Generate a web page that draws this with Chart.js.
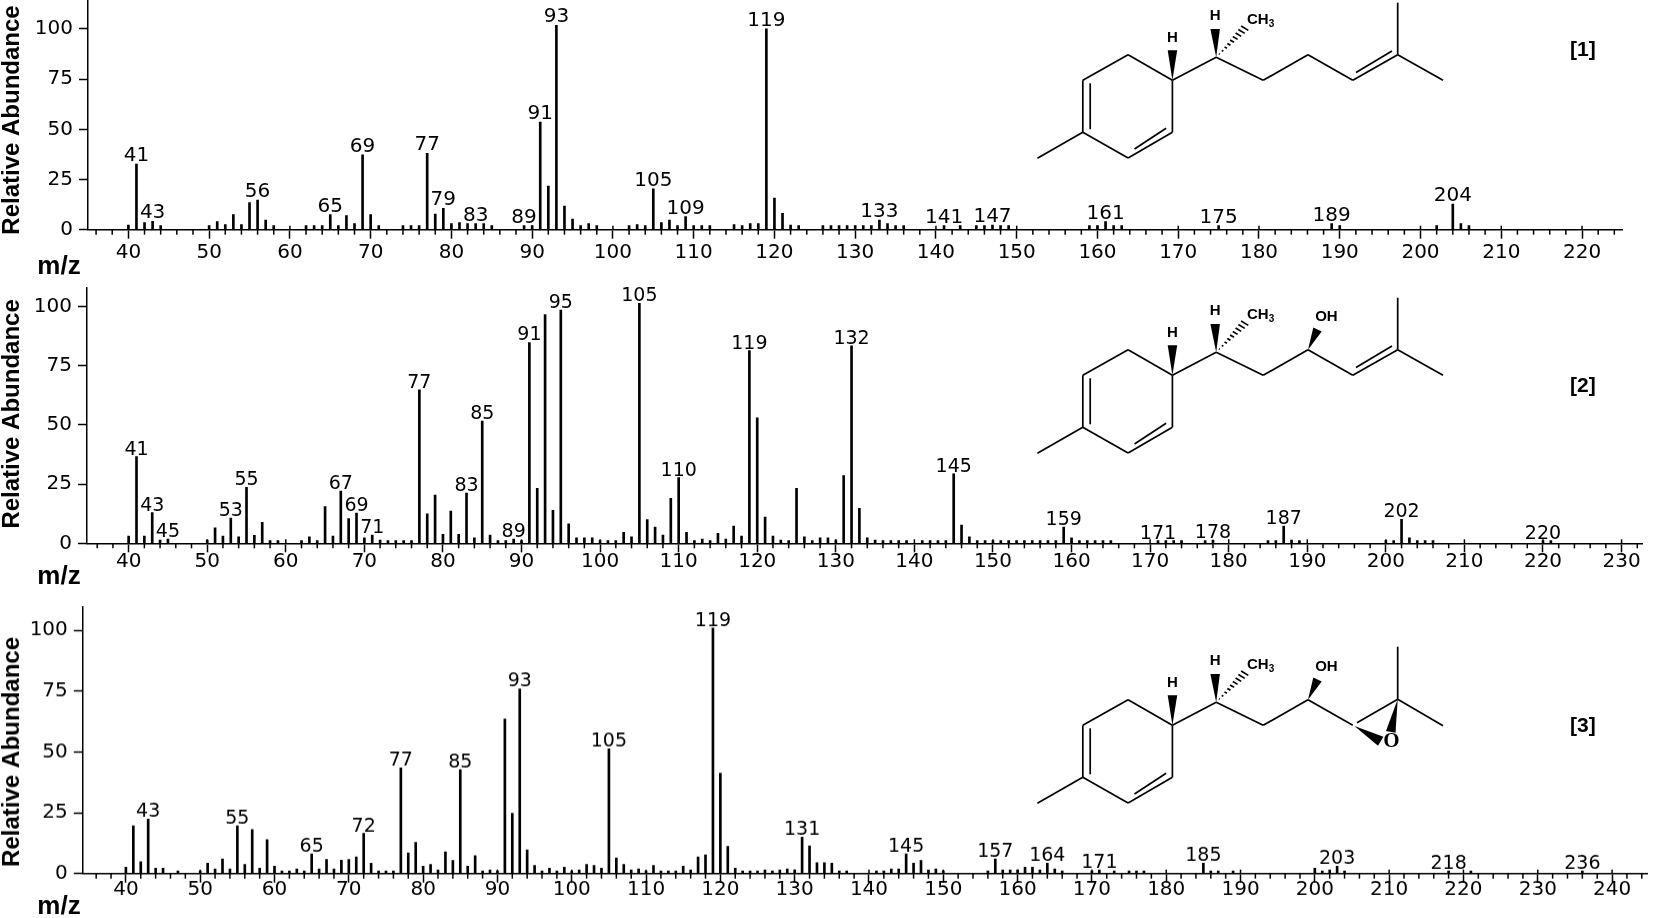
<!DOCTYPE html>
<html>
<head>
<meta charset="utf-8">
<title>Mass spectra [1] [2] [3]</title>
<script src="https://cdn.jsdelivr.net/npm/chart.js@4"></script>
<style>
    html, body { margin: 0; padding: 0; background: #fff; }
    #page { position: relative; width: 1654px; height: 918px; overflow: hidden; }
    canvas { position: absolute; left: 0; }
    svg { position: absolute; left: 0; top: 0; }
</style>
</head>
<body>
<div id="page">
    <canvas id="spectrum1"></canvas>
    <canvas id="spectrum2"></canvas>
    <canvas id="spectrum3"></canvas>
    <svg id="structures" width="1654" height="918"></svg>
</div>
<script>
/* =====================================================
   DATA
   ===================================================== */
var mz1 = [40, 41, 42, 43, 44, 50, 51, 52, 53, 54, 55, 56, 57, 58, 62, 63, 64, 65, 66, 67, 68, 69, 70, 71, 74, 75, 76, 77, 78, 79, 80, 81, 82, 83, 84, 85, 89, 90, 91, 92, 93, 94, 95, 96, 97, 98, 102, 103, 104, 105, 106, 107, 108, 109, 110, 111, 112, 115, 116, 117, 118, 119, 120, 121, 122, 123, 126, 127, 128, 129, 130, 131, 132, 133, 134, 135, 136, 141, 143, 145, 146, 147, 148, 149, 159, 160, 161, 162, 163, 175, 189, 190, 202, 204, 205, 206];
var abundance1 = [2.3, 32.7, 3.5, 4.2, 2, 2, 4, 2.5, 7.5, 2.5, 13.5, 14.8, 4.8, 2, 2, 2, 2, 7.5, 2, 7, 3, 37.3, 7.5, 2, 2, 2, 2, 38, 7.8, 10.6, 3, 3.5, 3, 3, 3, 2, 2, 2, 53.6, 21.7, 101.8, 11.8, 5.3, 2, 3, 2, 2, 2.5, 2, 20.4, 3.5, 4.8, 2, 6.5, 2, 2, 2, 2.5, 2, 3, 3, 100, 15.8, 8.1, 2.3, 2, 2, 2, 2, 2, 2, 2, 2, 4.8, 3, 2, 2, 2, 2, 2, 2, 2.3, 2, 2, 2, 2, 4, 2, 2, 2, 3, 2, 2, 12.8, 3, 2];
var peaks1 = [41, 43, 56, 65, 69, 77, 79, 83, 89, 91, 93, 105, 109, 119, 133, 141, 147, 161, 175, 189, 204];

var mz2 = [40, 41, 42, 43, 44, 45, 50, 51, 52, 53, 54, 55, 56, 57, 58, 59, 62, 63, 64, 65, 66, 67, 68, 69, 70, 71, 72, 73, 74, 75, 76, 77, 78, 79, 80, 81, 82, 83, 84, 85, 86, 87, 88, 89, 90, 91, 92, 93, 94, 95, 96, 97, 98, 99, 100, 101, 102, 103, 104, 105, 106, 107, 108, 109, 110, 111, 112, 113, 114, 115, 116, 117, 118, 119, 120, 121, 122, 123, 124, 125, 126, 127, 128, 129, 130, 131, 132, 133, 134, 135, 136, 137, 138, 139, 141, 142, 143, 144, 145, 146, 147, 148, 149, 150, 151, 152, 153, 154, 155, 156, 157, 158, 159, 160, 161, 162, 163, 164, 165, 171, 172, 173, 174, 177, 178, 185, 186, 187, 188, 189, 200, 201, 202, 203, 204, 205, 206, 220, 221];
var abundance2 = [3.1, 36.6, 3.1, 13, 1.4, 1.8, 1.4, 6.5, 3.1, 10.7, 2.7, 23.6, 3.4, 8.9, 1.1, 1.1, 1.1, 2.7, 1.1, 15.5, 3.1, 22, 10.4, 12.8, 2.3, 3.5, 1.4, 1.1, 1.1, 1.1, 1.1, 64.8, 12.4, 20.4, 3.8, 13.6, 3.8, 21.2, 2.3, 51.6, 3.5, 1.1, 1.1, 1.8, 1.1, 84.8, 23.2, 96.6, 13.9, 98.5, 8.2, 2.3, 2.3, 2.3, 1.1, 1.1, 1.1, 4.6, 2.7, 101.3, 10, 6.9, 3.5, 19, 27.7, 4.6, 1.1, 1.8, 1.1, 4.2, 1.8, 7.3, 3.1, 81.4, 53, 11.1, 3.1, 1.4, 1.1, 23.2, 2.7, 1.1, 2.3, 2.3, 1.4, 28.6, 83.4, 14.8, 2.3, 1.4, 1.1, 1.1, 1.1, 1.1, 1.1, 1.1, 1.1, 1.1, 29.3, 7.7, 2.7, 1.1, 1.1, 1.1, 1.1, 1.1, 1.1, 1.1, 1.1, 1.1, 1.1, 1.1, 6.8, 2.3, 1.1, 1.1, 1.1, 1.1, 1.1, 1.1, 1.1, 1.1, 1.1, 1.1, 1.4, 1.1, 1.1, 7.3, 1.4, 1.1, 1.1, 1.1, 10.1, 2.3, 1.1, 1.1, 1.1, 1.1, 1.1];
var peaks2 = [41, 43, 45, 53, 55, 67, 69, 71, 77, 83, 85, 89, 91, 95, 105, 110, 119, 132, 145, 159, 171, 178, 187, 202, 220];

var mz3 = [40, 41, 42, 43, 44, 45, 47, 50, 51, 52, 53, 54, 55, 56, 57, 58, 59, 60, 61, 62, 63, 64, 65, 66, 67, 68, 69, 70, 71, 72, 73, 74, 75, 76, 77, 78, 79, 80, 81, 82, 83, 84, 85, 86, 87, 88, 89, 90, 91, 92, 93, 94, 95, 96, 97, 98, 99, 100, 101, 102, 103, 104, 105, 106, 107, 108, 109, 110, 111, 112, 113, 114, 115, 116, 117, 118, 119, 120, 121, 122, 123, 124, 125, 126, 127, 128, 129, 130, 131, 132, 133, 134, 135, 136, 137, 141, 142, 143, 144, 145, 146, 147, 148, 149, 150, 156, 157, 158, 159, 160, 161, 162, 163, 164, 165, 166, 170, 171, 173, 175, 176, 177, 185, 186, 187, 189, 200, 201, 202, 203, 204, 218, 221, 236];
var abundance3 = [2.6, 19.6, 4.9, 22.4, 2.2, 2.2, 1.1, 1.1, 4.3, 1.9, 6, 1.9, 19.6, 3.8, 18.1, 2.2, 14, 3, 1.1, 1.1, 1.9, 1.1, 8.1, 1.9, 5.8, 1.9, 5.5, 5.8, 6.9, 16.5, 4.3, 1.1, 1.1, 1.1, 43.5, 8.5, 12.8, 3, 3.8, 1.5, 8.9, 5.4, 42.7, 3, 7.4, 1.1, 1.5, 1.1, 63.6, 24.8, 76, 9.7, 3.4, 1.1, 2.2, 1.1, 2.6, 1.1, 1.5, 3.8, 3.4, 2.2, 51.3, 6.4, 3.8, 1.5, 1.9, 1.1, 3.4, 1.1, 1.1, 1.1, 3, 1.5, 6.9, 7.7, 101, 41.3, 11.2, 2.2, 1.1, 1.1, 1.1, 1.5, 1.1, 1.5, 1.9, 1.5, 15, 11.4, 4.5, 4.5, 4.3, 1.1, 1.1, 1.1, 1.1, 1.9, 1.9, 8.1, 4.3, 5.4, 1.5, 1.9, 1.1, 1.1, 6, 1.5, 1.5, 1.5, 2.6, 2.6, 1.5, 4.3, 1.9, 1.1, 1.1, 1.5, 1.1, 1.1, 1.1, 1.1, 4.3, 1.1, 1.1, 1.1, 2.2, 1.1, 1.5, 3, 1.1, 1.1, 1.1, 1.1];
var peaks3 = [43, 55, 65, 72, 77, 85, 93, 105, 119, 131, 145, 157, 164, 171, 185, 203, 218, 236];

var abundanceTicks = [0, 25, 50, 75, 100];

/* =====================================================
   PANEL LAYOUT
   ===================================================== */
var FONT = '"DejaVu Sans", sans-serif';
var TITLE_FONT = 'bold 24px "Liberation Sans", sans-serif';
var UNIT_FONT = 'bold 26px "Liberation Sans", sans-serif';

var panels = [
    { id: 'spectrum1', mz: mz1, values: abundance1, peaks: peaks1, top: 0, headroom: 0, baseline: 229.7, bottom: 918 - 229.7, left: 88, right: 1622.4, xMin: 35, xMax: 225, yMax: 114.4, tickPad: 2, tickSize: 20, peakSize: 20, peakGap: 3, titleY: 120, unitY: 267 },
    { id: 'spectrum2', mz: mz2, values: abundance2, peaks: peaks2, top: 287.7, headroom: 24, baseline: 543.3, bottom: 918 - 543.3, left: 87, right: 1642, xMin: 34.7, xMax: 232.6, yMax: 107.8, tickPad: -3, tickSize: 20, peakSize: 19, peakGap: 2, titleY: 413.6, unitY: 577 },
    { id: 'spectrum3', mz: mz3, values: abundance3, peaks: peaks3, top: 607.3, headroom: 24, baseline: 873.7, bottom: 918 - 873.7, left: 82.8, right: 1647, xMin: 34.2, xMax: 244.7, yMax: 109.6, tickPad: -5, tickSize: 20, peakSize: 19, peakGap: 2, titleY: 751.7, unitY: 906 }
];

/* small ticks, peak labels and the axis captions */
var spectrumDecor = {
    id: 'spectrumDecor',
    afterDraw: function (chart, args, opts) {
        var ctx = chart.ctx;
        var x = chart.scales.x;
        var y = chart.scales.y;
        var p = opts.panel;
        var bottom = y.getPixelForValue(0);
        var canvasTop = p.top - p.headroom;

        ctx.save();
        ctx.strokeStyle = '#000';
        ctx.lineWidth = 1.5;
        x.ticks.forEach(function (t) {
            var px = x.getPixelForValue(t.value);
            var major = t.value % 10 === 0;
            ctx.beginPath();
            ctx.moveTo(px, major ? bottom - 4 : bottom);
            ctx.lineTo(px, major ? bottom : bottom + 5);
            ctx.stroke();
        });

        ctx.fillStyle = '#000';
        ctx.font = p.peakSize + 'px ' + FONT;
        ctx.textAlign = 'center';
        ctx.textBaseline = 'alphabetic';
        p.peaks.forEach(function (m) {
            var v = p.values[p.mz.indexOf(m)];
            ctx.fillText(String(m), x.getPixelForValue(m), y.getPixelForValue(v) - p.peakGap);
        });

        ctx.font = UNIT_FONT;
        ctx.textBaseline = 'middle';
        ctx.fillText('m/z', 59, p.unitY - canvasTop);
        ctx.font = TITLE_FONT;
        ctx.translate(12, p.titleY - canvasTop);
        ctx.rotate(-Math.PI / 2);
        ctx.fillText('Relative Abundance', 0, 0);
        ctx.restore();
    }
};

function fitScale(prop, size) {
    return function (scale) {
        scale[prop] = size;
        scale.paddingTop = 0;
        scale.paddingBottom = 0;
        scale.paddingLeft = 0;
        scale.paddingRight = 0;
    };
}

// every even m/z gets a tick, whatever the axis range is
function evenTicks(scale) {
    var list = [];
    for (var v = Math.ceil(scale.min / 2) * 2; v <= scale.max; v += 2) {
        list.push({ value: v });
    }
    scale.ticks = list;
}

function drawSpectrum(p) {
    var canvas = document.getElementById(p.id);
    var h = p.headroom + p.baseline - p.top + p.bottom;
    canvas.style.top = (p.top - p.headroom) + 'px';
    canvas.style.width = '1654px';
    canvas.style.height = h + 'px';
    canvas.width = 1654;
    canvas.height = h;

    new Chart(canvas.getContext('2d'), {
        type: 'bar',
        plugins: [spectrumDecor],
        data: {
            datasets: [{
                data: p.mz.map(function (m, i) { return { x: m, y: p.values[i] }; }),
                backgroundColor: '#000',
                borderWidth: 0,
                barThickness: 2
            }]
        },
        options: {
            responsive: false,
            animation: false,
            devicePixelRatio: 1,
            layout: { padding: { left: 0, top: p.headroom, bottom: 0, right: 1654 - p.right } },
            plugins: {
                legend: { display: false },
                tooltip: { enabled: false },
                spectrumDecor: { panel: p }
            },
            scales: {
                x: {
                    type: 'linear',
                    offset: false,
                    min: p.xMin,
                    max: p.xMax,
                    afterFit: fitScale('height', p.bottom),
                    afterBuildTicks: evenTicks,
                    border: { color: '#000', width: 1.5 },
                    grid: {
                        offset: false,
                        drawOnChartArea: false,
                        tickLength: 9,
                        tickWidth: 1.5,
                        tickColor: function (c) {
                            return c.tick && c.tick.value % 10 === 0 ? '#000' : 'rgba(0,0,0,0)';
                        }
                    },
                    ticks: {
                        autoSkip: false,
                        maxRotation: 0,
                        minRotation: 0,
                        padding: p.tickPad,
                        color: '#000',
                        font: { family: FONT, size: p.tickSize },
                        callback: function (v) { return v % 10 === 0 ? String(v) : ''; }
                    }
                },
                y: {
                    min: 0,
                    max: p.yMax,
                    afterFit: fitScale('width', p.left),
                    afterBuildTicks: function (scale) {
                        scale.ticks = abundanceTicks.map(function (v) { return { value: v }; });
                    },
                    border: { color: '#000', width: 1.5 },
                    grid: { drawOnChartArea: false, tickLength: 9, tickWidth: 1.5, tickColor: '#000' },
                    ticks: {
                        padding: 6,
                        color: '#000',
                        font: { family: FONT, size: p.tickSize }
                    }
                }
            }
        }
    });
}

panels.forEach(drawSpectrum);

/* =====================================================
   MOLECULE DRAWINGS (plain SVG, no chart data)
   ===================================================== */
function line(x1, y1, x2, y2) {
    return '<line x1="' + x1 + '" y1="' + y1 + '" x2="' + x2 + '" y2="' + y2 + '" stroke="#000" stroke-width="1.7"/>';
}
function wedge(pts) {
    return '<polygon points="' + pts + '" fill="#000"/>';
}
function label(x, y, text, size) {
    return '<text x="' + x + '" y="' + y + '" font-family="Liberation Sans" font-weight="bold" font-size="' + (size || 15) + '" text-anchor="middle" dominant-baseline="middle">' + text + '</text>';
}

function ring(dy) {
    var s = '';
    s += line(1172.4, 80.3 + dy, 1128.1, 54.7 + dy) + line(1128.1, 54.7 + dy, 1082.8, 80.3 + dy);
    s += line(1082.8, 80.3 + dy, 1082.8, 132.3 + dy) + line(1082.8, 132.3 + dy, 1128.1, 158 + dy);
    s += line(1128.1, 158 + dy, 1172.4, 132.3 + dy) + line(1172.4, 132.3 + dy, 1172.4, 80.3 + dy);
    s += line(1082.8, 132.3 + dy, 1037.4, 158.3 + dy);
    s += line(1090.2, 83.3 + dy, 1090.2, 129.3 + dy) + line(1134.5, 149 + dy, 1166.1, 128.3 + dy);
    s += line(1172.4, 80.3 + dy, 1216.2, 57.3 + dy);
    // H wedges
    s += wedge('1172.4,' + (80.3 + dy) + ' 1167.7,' + (50.3 + dy) + ' 1177.2,' + (50.3 + dy));
    s += label(1172.4, 38.3 + dy, 'H');
    s += wedge('1216.2,' + (57.3 + dy) + ' 1210.4,' + (29 + dy) + ' 1219.9,' + (29 + dy));
    s += label(1215.2, 16 + dy, 'H');
    // hashed methyl
    for (var i = 1; i <= 9; i++) {
        var t = i / 10;
        var cx = 1216.2 + (1247.9 - 1216.2) * t;
        var cy = 57.3 + dy + (25 - 57.3) * t;
        var w = 4 * t;
        s += line(cx - w, cy - w * 0.6, cx + w, cy + w * 0.6);
    }
    s += '<text x="1247" y="' + (24 + dy) + '" font-family="Liberation Sans" font-weight="bold" font-size="15">CH<tspan font-size="10" dy="3">3</tspan></text>';
    return s;
}

function tail(dy, withHydroxyl) {
    var s = '';
    s += line(1216.2, 57.3 + dy, 1263.2, 80.3 + dy) + line(1263.2, 80.3 + dy, 1308, 54.7 + dy);
    s += line(1308, 54.7 + dy, 1352.8, 80.3 + dy);
    if (withHydroxyl) {
        s += wedge('1308,' + (54.7 + dy) + ' 1313.3,' + (32.5 + dy) + ' 1321.7,' + (36.5 + dy));
        s += label(1326.4, 22 + dy, 'OH');
    }
    return s;
}

function alkeneEnd(dy) {
    var s = '';
    s += line(1352.8, 80.3 + dy, 1397.7, 54.7 + dy) + line(1356, 72.5 + dy, 1392, 51 + dy);
    s += line(1397.7, 54.7 + dy, 1443, 80.3 + dy) + line(1397.7, 54.7 + dy, 1397.7, 2.7 + dy);
    return s;
}

function epoxideEnd() {
    var s = '';
    s += line(1357, 722.7, 1397.7, 699.3) + line(1397.7, 699.3, 1443, 725.7) + line(1397.7, 699.3, 1397.7, 646.7);
    s += wedge('1354.4,726 1383.4,736.7 1378,745.7');
    s += wedge('1397.7,699.3 1386,731 1395.5,732.7');
    s += '<text x="1391.3" y="742" font-family="Liberation Serif" font-size="21" font-weight="bold" text-anchor="middle" dominant-baseline="middle">O</text>';
    return s;
}

function tag(y, text) {
    return '<text x="1582.8" y="' + y + '" font-family="Liberation Sans" font-weight="bold" font-size="21" text-anchor="middle" dominant-baseline="middle">' + text + '</text>';
}

document.getElementById('structures').innerHTML =
    ring(0) + tail(0, false) + alkeneEnd(0) + tag(50.7, '[1]') +
    ring(295) + tail(295, true) + alkeneEnd(295) + tag(386.7, '[2]') +
    ring(645) + tail(645, true) + epoxideEnd() + tag(726.7, '[3]');
</script>
</body>
</html>
